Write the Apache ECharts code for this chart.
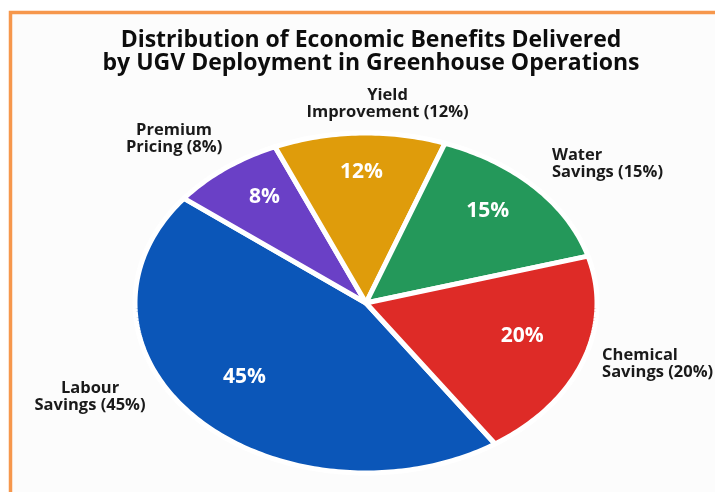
<!DOCTYPE html>
<html>
<head>
<meta charset="utf-8">
<script src="https://cdn.jsdelivr.net/npm/echarts@6/dist/echarts.min.js"></script>
<style>
html, body { margin: 0; padding: 0; background: #ffffff; }
#chart { width: 715px; height: 492px; }
</style>
</head>
<body>
<div id="chart"></div>
<script>
var categories = ['Labour Savings', 'Premium Pricing', 'Yield Improvement', 'Water Savings', 'Chemical Savings'];
var shares = [45, 8, 12, 15, 20];
var sliceColors = ['#0b56b8', '#6a40c6', '#df9c0b', '#24985a', '#de2b27'];
var titleLines = ['Distribution of Economic Benefits Delivered', 'by UGV Deployment in Greenhouse Operations'];

// the pie is drawn as an ellipse, so it is laid out by hand in a custom series
var pie = { cx: 366, cy: 303, rx: 231, ry: 170, startAngle: -56, gap: 5, innerK: 0.72, innerDy: -9 };
// outer label nudge from the slice edge point: [dx, dy, align]
var labelNudge = [[-107, -22, 'center'], [-51, -30, 'center'], [28, -29, 'center'], [17, -23, 'left'], [19, 3, 'left']];

var total = shares.reduce(function (a, b) { return a + b; }, 0);
var startAngles = [];
var acc = pie.startAngle;
shares.forEach(function (v) {
    startAngles.push(acc);
    acc -= v / total * 360;
});

function ellipsePoint(deg, k) {
    var r = deg * Math.PI / 180;
    return [pie.cx + pie.rx * k * Math.cos(r), pie.cy - pie.ry * k * Math.sin(r)];
}

function renderSlice(params, api) {
    var i = params.dataIndex;
    var value = api.value(1);
    var a0 = startAngles[i];
    var sweep = value / total * 360;
    var pts = [[pie.cx, pie.cy]];
    var steps = Math.ceil(sweep);
    for (var s = 0; s <= steps; s++) {
        pts.push(ellipsePoint(a0 - sweep * s / steps, 1));
    }
    var mid = a0 - sweep / 2;
    var inner = ellipsePoint(mid, pie.innerK);
    var edge = ellipsePoint(mid, 1);
    var nudge = labelNudge[i];
    var name = categories[i];
    var sp = name.indexOf(' ');
    var outerText = name.slice(0, sp) + '\n' + name.slice(sp + 1) + ' (' + value + '%)';
    return {
        type: 'group',
        children: [
            {
                type: 'polygon',
                shape: { points: pts },
                style: { fill: sliceColors[i], stroke: '#ffffff', lineWidth: pie.gap, lineJoin: 'round' }
            },
            {
                type: 'text', x: inner[0], y: inner[1] + pie.innerDy,
                style: {
                    text: value + '%', fill: '#ffffff', fontFamily: 'Open Sans', fontWeight: 'bold', fontSize: 21,
                    align: 'center', verticalAlign: 'middle'
                }
            },
            {
                type: 'text', x: edge[0] + nudge[0], y: edge[1] + nudge[1],
                style: {
                    text: outerText, fill: '#1a1a1a', fontFamily: 'Open Sans', fontWeight: 'bold', fontSize: 16.5,
                    lineHeight: 17, align: nudge[2], verticalAlign: 'middle'
                }
            }
        ]
    };
}

var myChart = echarts.init(document.getElementById('chart'));
var option = {
    animation: false,
    graphic: [
        {
            type: 'rect', z: -10,
            shape: { x: 10.5, y: 12.5, width: 740, height: 520 },
            style: { fill: '#fcfcfc', stroke: '#f6974c', lineWidth: 3.5 }
        },
        {
            type: 'text', x: 371, y: 52,
            style: {
                text: titleLines.join('\n'), fill: '#0d0d0d', fontFamily: 'Open Sans', fontWeight: 'bold',
                fontSize: 23, lineHeight: 23, align: 'center', verticalAlign: 'middle'
            }
        }
    ],
    series: [{
        type: 'custom',
        coordinateSystem: 'none',
        renderItem: renderSlice,
        data: categories.map(function (c, i) { return [i, shares[i]]; })
    }]
};
myChart.setOption(option);
</script>
</body>
</html>
